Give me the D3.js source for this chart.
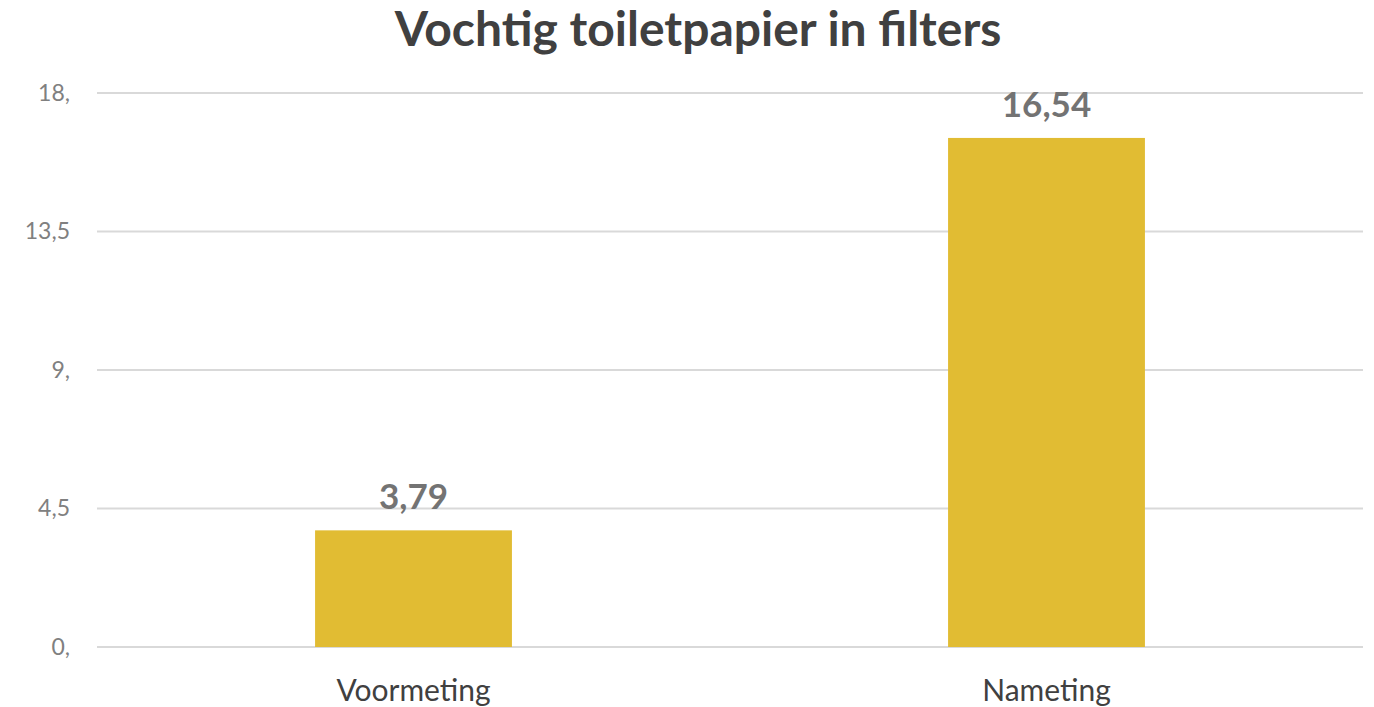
<!DOCTYPE html>
<html>
<head>
<meta charset="utf-8">
<script src="https://cdn.jsdelivr.net/npm/d3@7"></script>
<style>
  html, body { margin: 0; padding: 0; background: #fff; }
  svg { display: block; font-family: "Source Sans Pro", Lato, "Noto Sans", sans-serif; }
</style>
</head>
<body>
<svg id="chart" width="1374" height="707"></svg>
<script>
const title = "Vochtig toiletpapier in filters";
const categories = ["Voormeting", "Nameting"];
const values = [3.79, 16.54];
const yTicks = [0, 4.5, 9, 13.5, 18];
const yTickLabels = ["0,", "4,5", "9,", "13,5", "18,"];

const svg = d3.select("#chart");
const margin = { left: 97, right: 11, top: 93, bottom: 60 };
const width = 1374, height = 707;

const x = d3.scaleBand()
  .domain(categories)
  .range([margin.left, width - margin.right])
  .paddingInner(0.689)
  .paddingOuter(0.3445);

const y = d3.scaleLinear()
  .domain([0, 18])
  .range([height - margin.bottom, margin.top]);

const fmt = v => String(v).replace(".", ",");

// horizontal gridlines
svg.append("g")
  .selectAll("line")
  .data(yTicks)
  .join("line")
  .attr("x1", margin.left)
  .attr("x2", width - margin.right)
  .attr("y1", d => y(d))
  .attr("y2", d => y(d))
  .attr("stroke", "#d9d9d9")
  .attr("stroke-width", 2);

// y axis labels
const yAxis = d3.axisLeft(y)
  .tickValues(yTicks)
  .tickFormat((d, i) => yTickLabels[i])
  .tickSize(0)
  .tickPadding(27);
const gy = svg.append("g")
  .attr("transform", `translate(${margin.left},0)`)
  .call(yAxis)
  .attr("font-family", null)
  .attr("font-size", null);
gy.select(".domain").remove();
gy.selectAll("text")
  .attr("fill", "#808080")
  .style("font-size", "23px");

// bars
svg.append("g")
  .selectAll("rect")
  .data(values)
  .join("rect")
  .attr("x", (d, i) => x(categories[i]))
  .attr("width", x.bandwidth())
  .attr("y", d => y(d))
  .attr("height", d => y(0) - y(d))
  .attr("fill", "#e1bc33");

// value labels
svg.append("g")
  .selectAll("text")
  .data(values)
  .join("text")
  .attr("x", (d, i) => x(categories[i]) + x.bandwidth() / 2)
  .attr("y", d => y(d) - 21)
  .attr("text-anchor", "middle")
  .attr("fill", "#737373")
  .attr("font-weight", "bold")
  .attr("font-size", 35)
  .text(d => fmt(d));

// category axis
const xAxis = d3.axisBottom(x).tickSize(0).tickPadding(33);
const gx = svg.append("g")
  .attr("transform", `translate(0,${y(0)})`)
  .call(xAxis)
  .attr("font-family", null)
  .attr("font-size", null);
gx.select(".domain").remove();
gx.selectAll("text")
  .attr("fill", "#404040")
  .style("font-size", "30px");

// title
svg.append("text")
  .attr("x", 698)
  .attr("y", 46)
  .attr("text-anchor", "middle")
  .attr("fill", "#404040")
  .attr("font-weight", "bold")
  .attr("font-size", 48)
  .text(title);
</script>
</body>
</html>
